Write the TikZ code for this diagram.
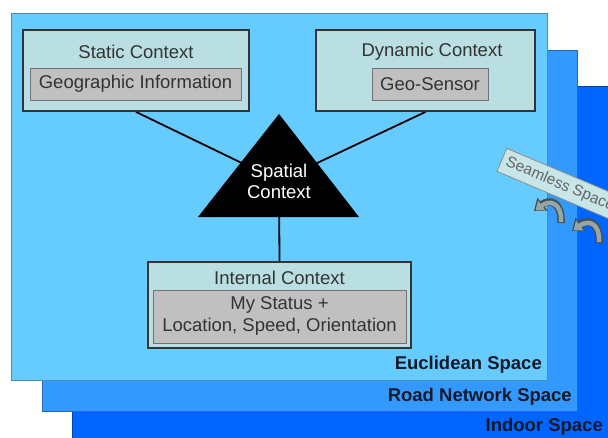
\documentclass[tikz,border=0pt]{standalone}
\usepackage{fontspec}
\setmainfont{Liberation Sans}
\usetikzlibrary{arrows.meta}
\pgfdeclarelayer{paper}
\pgfdeclarelayer{spaces}
\pgfdeclarelayer{links}
\pgfsetlayers{paper,spaces,links,main}

\definecolor{euclid}{RGB}{102,204,255}
\definecolor{roadnet}{RGB}{51,153,255}
\definecolor{indoor}{RGB}{0,102,255}
\definecolor{ctxfill}{RGB}{186,223,226}
\definecolor{infofill}{RGB}{192,192,192}
\definecolor{edgegray}{RGB}{51,51,51}
\definecolor{labeltext}{RGB}{20,25,40}
\definecolor{curlfill}{RGB}{150,165,165}
\definecolor{curledge}{RGB}{70,80,80}

\tikzset{
  spacebox/.style={draw=#1!70!black, line width=0.8pt, inner sep=0pt, anchor=north west},
  spacelabel/.style={anchor=east, font=\fontsize{18.5}{22}\selectfont\bfseries, text=labeltext, inner sep=0pt},
  ctxbox/.style={draw=edgegray, line width=1.8pt, fill=ctxfill, inner sep=0pt},
  infobox/.style={draw=black!55, line width=0.9pt, fill=infofill, inner sep=0pt},
  ctxtext/.style={text=edgegray, inner sep=0pt, align=center, font=\fontsize{18.5}{22}\selectfont},
  link/.style={draw=black, line width=1.8pt},
  curl/.pic={
    \draw[curledge, line width=7.5pt, -{Triangle[width=16pt,length=11pt]}]
      (0,0) .. controls (1,-22) and (-12,-24) .. (-27,-12);
    \draw[curlfill, line width=4.5pt, -{Triangle[width=12pt,length=8pt]}]
      (0,-1) .. controls (1,-21.5) and (-12,-23) .. (-25.5,-12.6);
  }
}

\begin{document}
\begin{tikzpicture}[x=1pt,y=-1pt]
\useasboundingbox (0,0) rectangle (608,437);
\clip (0,0) rectangle (608,437);
\begin{pgfonlayer}{paper}
  \fill[white] (0,0) rectangle (608,437);
\end{pgfonlayer}

% nested spaces
\begin{pgfonlayer}{spaces}
  \node[spacebox=indoor, fill=indoor, minimum width=570pt, minimum height=390pt] (indoorsp) at (72,86) {};
  \node[spacebox=roadnet, fill=roadnet, minimum width=535pt, minimum height=361pt] (roadsp) at (42,50) {};
  \node[spacebox=euclid, fill=euclid, minimum width=536pt, minimum height=367pt] (euclidsp) at (11,13) {};
\end{pgfonlayer}
\node[spacelabel] (euclidlbl) at (542,365) {Euclidean Space};
\node[spacelabel] (roadlbl) at (572,397) {Road Network Space};
\node[spacelabel] (indoorlbl) at (603,427) {Indoor Space};

% context boxes
\node[ctxbox, minimum width=226pt, minimum height=81pt] (static) at (136,70.5) {};
\node[ctxtext] (statictitle) at (136,52) {Static Context};
\node[infobox, minimum width=211pt, minimum height=32pt] (geoinfo) at (135.5,84) {};
\node[ctxtext] at (geoinfo) {Geographic Information};

\node[ctxbox, minimum width=219pt, minimum height=81pt] (dynamic) at (425.5,70.5) {};
\node[ctxtext] (dynamictitle) at (432,52) {Dynamic Context};
\node[infobox, minimum width=116pt, minimum height=32pt] (geosensor) at (430,84) {};
\node[ctxtext] at (geosensor) {Geo-Sensor};

\node[ctxbox, minimum width=263pt, minimum height=86pt] (internal) at (279.5,305) {};
\node[ctxtext] (internaltitle) at (279.5,278) {Internal Context};
\node[infobox, minimum width=253pt, minimum height=53pt] (mystatus) at (279.5,316.5) {};
\node[ctxtext] at (279.5,305) {My Status +};
\node[ctxtext] at (279.5,327) {Location, Speed, Orientation};

% spatial context triangle
\fill[black] (279,114) -- (198,217) -- (359,217) -- cycle;
\node[ctxtext, text=white] (spatial) at (279,181) {Spatial\\[-1pt]Context};

\begin{pgfonlayer}{links}
  \draw[link] (static.south) -- (spatial.center);
  \draw[link] (dynamic.south) -- (spatial.center);
  \draw[link] (spatial.center) -- (internal.north);
\end{pgfonlayer}

% seamless transition between spaces
\node[draw=black!45, line width=0.8pt, fill=ctxfill!80!white, text=black!60,
      font=\fontsize{15.5}{18}\selectfont, rotate=-23, inner xsep=5pt,
      minimum height=25pt] (seamless) at (560,184.5) {Seamless Space};
\pic at (561,223) {curl};
\pic at (599,243) {curl};
\end{tikzpicture}
\end{document}
